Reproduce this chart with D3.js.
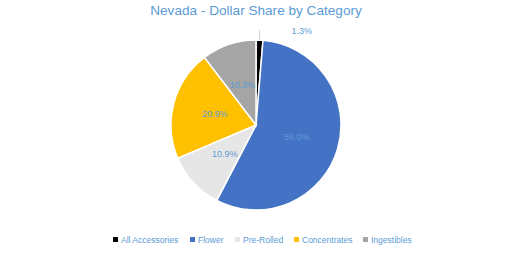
<!DOCTYPE html>
<html>
<head>
<meta charset="utf-8">
<script src="https://cdn.jsdelivr.net/npm/d3@7"></script>
<style>
  body { margin: 0; background: #fff; }
  text { font-family: "Liberation Sans", Arial, sans-serif; }
</style>
</head>
<body>
<div id="main_div"></div>
<script>
/** data **/
const categories = ["All Accessories", "Flower", "Pre-Rolled", "Concentrates", "Ingestibles"];
const shares = [1.3, 56.0, 10.9, 20.9, 10.3];
const colors = ["#000000", "#4472C4", "#E7E6E6", "#FFC000", "#A5A5A5"];

const size = [512, 254];
const cx = 256, cy = 125, radius = 85;
const labelColor = "#5B9BD5";

let svg = d3.select("#main_div")
    .append("svg")
    .attr("width", size[0])
    .attr("height", size[1]);

/** title **/
svg.append("text")
    .attr("x", 256)
    .attr("y", 15)
    .attr("text-anchor", "middle")
    .style("font-size", "13.6px")
    .style("fill", labelColor)
    .text("Nevada - Dollar Share by Category");

/** pie **/
let pie = d3.pie().sort(null).value(d => d)(shares);
let arc = d3.arc().innerRadius(0).outerRadius(radius);
let labelArc = d3.arc().innerRadius(radius * 0.5).outerRadius(radius * 0.5);

let g = svg.append("g").attr("transform", "translate(" + cx + "," + cy + ")");

g.selectAll("path")
    .data(pie)
    .enter()
    .append("path")
    .attr("d", arc)
    .style("fill", (d, i) => colors[i])
    .style("stroke", "#fff")
    .style("stroke-width", 1.5);

g.selectAll(".lbl")
    .data(pie.slice(1))
    .enter()
    .append("text")
    .attr("class", "lbl")
    .attr("transform", d => "translate(" + labelArc.centroid(d) + ")")
    .attr("text-anchor", "middle")
    .attr("dy", "0.35em")
    .style("font-size", "9px")
    .style("fill", labelColor)
    .text(d => d.data.toFixed(1) + "%");

/** small slice label outside with leader line */
let small = pie[0];
let mid = (small.startAngle + small.endAngle) / 2;
let ex = Math.sin(mid) * radius, ey = -Math.cos(mid) * radius;
g.append("line")
    .attr("x1", ex).attr("y1", ey)
    .attr("x2", ex).attr("y2", ey - 10)
    .style("stroke", "#d0d0d0")
    .style("stroke-width", 1);
g.append("text")
    .attr("x", ex + 32)
    .attr("y", ey - 6)
    .style("font-size", "9px")
    .style("fill", labelColor)
    .text(small.data.toFixed(1) + "%");

/** legend **/
const legendX = [113, 190, 235, 294, 363];
let legend = svg.append("g");
categories.forEach((c, i) => {
    legend.append("rect")
        .attr("x", legendX[i])
        .attr("y", 237)
        .attr("width", 5)
        .attr("height", 5)
        .style("fill", colors[i]);
    legend.append("text")
        .attr("x", legendX[i] + 8)
        .attr("y", 243)
        .style("font-size", "8.5px")
        .style("fill", labelColor)
        .text(c);
});
</script>
</body>
</html>
